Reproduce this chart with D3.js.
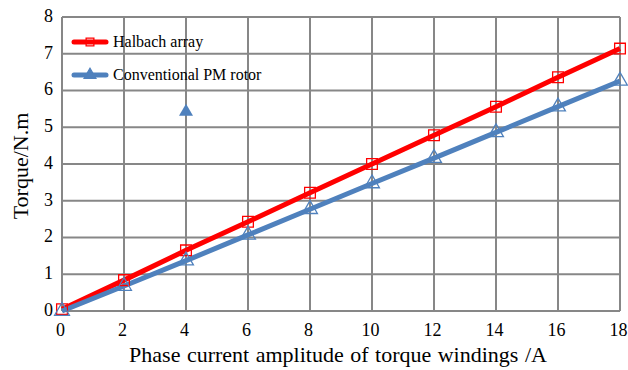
<!DOCTYPE html>
<html>
<head>
<meta charset="utf-8">
<script src="https://cdn.jsdelivr.net/npm/d3@7"></script>
<style>
body{margin:0;background:#fff;}
svg text{font-family:"Liberation Serif","Times New Roman",serif !important;fill:#000;}
</style>
</head>
<body>
<script>
(function(){
'use strict';

var currents = [0, 2, 4, 6, 8, 10, 12, 14, 16, 18];
var halbach = [0.05, 0.84, 1.65, 2.43, 3.22, 4.0, 4.78, 5.56, 6.36, 7.14];
var conventional = [0, 0.68, 1.37, 2.07, 2.77, 3.47, 4.16, 4.86, 5.56, 6.26];
var strayPoint = {x: 4, y: 5.42};
var xTicks = [0, 2, 4, 6, 8, 10, 12, 14, 16, 18];
var yTicks = [0, 1, 2, 3, 4, 5, 6, 7, 8];

var width = 628, height = 370;
var left = 62, right = 620, top = 17, bottom = 311;

var svg = d3.select('body').append('svg')
	.attr('width', width)
	.attr('height', height);

var x = d3.scaleLinear().domain([0, 18]).range([left, right]);
var y = d3.scaleLinear().domain([0, 8]).range([bottom, top]);

// grid
svg.append('g').selectAll('line').data(xTicks).enter().append('line')
	.attr('x1', function(d){ return x(d); }).attr('x2', function(d){ return x(d); })
	.attr('y1', top).attr('y2', bottom)
	.attr('stroke', '#878787').attr('stroke-width', 2);
svg.append('g').selectAll('line').data(yTicks).enter().append('line')
	.attr('x1', left).attr('x2', right)
	.attr('y1', function(d){ return y(d); }).attr('y2', function(d){ return y(d); })
	.attr('stroke', '#878787').attr('stroke-width', 2);

// tick labels via d3 axes
var xAxis = svg.append('g').attr('transform', 'translate(-2,' + bottom + ')')
	.call(d3.axisBottom(x).tickValues(xTicks).tickSize(0).tickPadding(12));
var yAxis = svg.append('g').attr('transform', 'translate(' + left + ',-1.5)')
	.call(d3.axisLeft(y).tickValues(yTicks).tickSize(0).tickPadding(9));
[xAxis, yAxis].forEach(function(a){
	a.select('.domain').remove();
	a.attr('font-size', null).attr('font-family', null);
	a.selectAll('text').attr('font-size', 18);
});

svg.append('text')
	.attr('x', (left + right) / 2 - 3).attr('y', 362)
	.attr('text-anchor', 'middle').attr('font-size', 22)
	.attr('word-spacing', 1)
	.text('Phase current amplitude of torque windings /A');

svg.append('text')
	.attr('transform', 'translate(28,' + ((top + bottom) / 2 + 2) + ') rotate(-90)')
	.attr('text-anchor', 'middle').attr('font-size', 22)
	.text('Torque/N.m');

// series
var series = [
	{name: 'Halbach array', values: halbach, color: '#ff0000', marker: 'square'},
	{name: 'Conventional PM rotor', values: conventional, color: '#4f81bd', marker: 'triangle'}
];

var line = d3.line()
	.x(function(d, i){ return x(currents[i]); })
	.y(function(d){ return y(d); });

series.forEach(function(s){
	svg.append('path').datum(s.values)
		.attr('d', line)
		.attr('fill', 'none')
		.attr('stroke', s.color)
		.attr('stroke-width', 5);
});

var sq = d3.symbol().type(d3.symbolSquare).size(115);
var tri = d3.symbol().type(d3.symbolTriangle).size(95);

series.forEach(function(s){
	svg.append('g').selectAll('path').data(s.values).enter().append('path')
		.attr('transform', function(d, i){ return 'translate(' + x(currents[i]) + ',' + y(d) + ')'; })
		.attr('d', s.marker === 'square' ? sq : tri)
		.attr('fill', 'none')
		.attr('stroke', s.color)
		.attr('stroke-width', 1.3);
});

// lone filled triangle
svg.append('path')
	.attr('transform', 'translate(' + x(strayPoint.x) + ',' + y(strayPoint.y) + ')')
	.attr('d', d3.symbol().type(d3.symbolTriangle).size(85))
	.attr('fill', '#4f81bd');

// legend
var legend = svg.append('g');
series.forEach(function(s, i){
	var ly = 42 + i * 33;
	legend.append('line')
		.attr('x1', 74).attr('x2', 106).attr('y1', ly).attr('y2', ly)
		.attr('stroke', s.color).attr('stroke-width', 5).attr('stroke-linecap', 'round');
	legend.append('path')
		.attr('transform', 'translate(90,' + ly + ')')
		.attr('d', s.marker === 'square' ? d3.symbol().type(d3.symbolSquare).size(60) : d3.symbol().type(d3.symbolTriangle).size(60))
		.attr('fill', s.marker === 'square' ? 'none' : s.color)
		.attr('stroke', s.color).attr('stroke-width', 1.3);
	legend.append('text')
		.attr('x', 113).attr('y', ly + 5)
		.attr('font-size', 16)
		.text(s.name);
});

})();
</script>
</body>
</html>
